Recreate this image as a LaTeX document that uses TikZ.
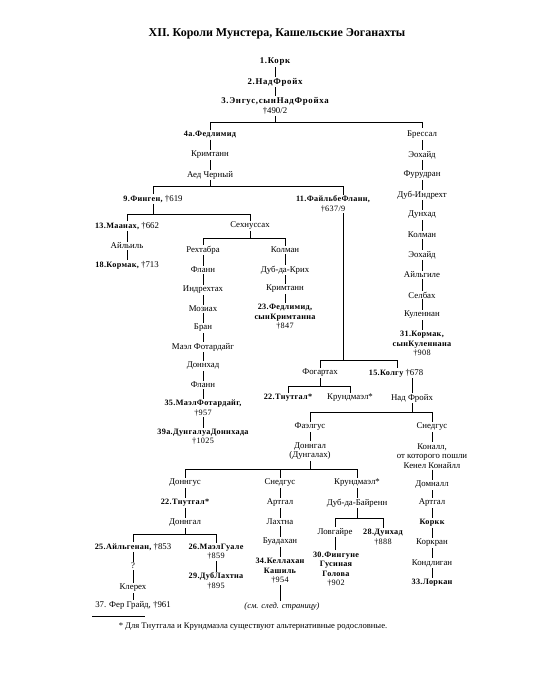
\documentclass[tikz,border=0pt]{standalone}
\usepackage{fontspec}
\setmainfont{Liberation Serif}
\newfontfamily\spc[LetterSpace=8]{Liberation Serif}
\newfontfamily\spd[LetterSpace=4]{Liberation Serif}
\begin{document}
\begin{tikzpicture}[x=1pt,y=-1pt,
  nm/.style={inner sep=1.1pt, align=center, font=\fontsize{8.8}{9.5}\selectfont},
  bd/.style={inner sep=1.1pt, align=center, font=\fontsize{8.2}{9.5}\spd\bfseries},
  sb/.style={inner sep=1.3pt, align=center, font=\fontsize{8.8}{10}\spc\bfseries},
  ln/.style={line width=0.5pt}]
\useasboundingbox (0,0) rectangle (550,700);
\node[font=\fontsize{12}{14}\selectfont\bfseries] (title) at (277,34) {XII. Короли Мунстера, Кашельские Эоганахты};
% top
\node[sb] (k1) at (275,62) {1.Корк};
\node[sb] (k2) at (275,82) {2.НадФройх};
\node[sb] (k3) at (275,106) {3.Энгус,сынНадФройха\\{\mdseries\rmfamily †490/2}};
\draw[ln] (k1) -- (k2);
\draw[ln] (k2) -- (k3);
\coordinate (b3) at (0,122);
\node[bd] (f4) at (210,135) {4а.Федлимид};
\node[nm] (kr1) at (210,155) {Кримтанн};
\node[nm] (aed) at (210,175) {Аед Черный};
\draw[ln] (k3.south) -- (k3.south |- b3);
\draw[ln] (f4.north) -- (f4.north |- b3) -| (422,128);
\draw[ln] (f4) -- (kr1);
\draw[ln] (kr1) -- (aed);
% right chain Брессал
\node[nm] (r1) at (422,135) {Брессал};
\node[nm] (r2) at (422,155) {Эохайд};
\node[nm] (r3) at (422,175) {Фурудран};
\node[nm] (r4) at (422,195) {Дуб-Индрехт};
\node[nm] (r5) at (422,215) {Дунхад};
\node[nm] (r6) at (422,235) {Колман};
\node[nm] (r7) at (422,255) {Эохайд};
\node[nm] (r8) at (422,275) {Айльгиле};
\node[nm] (r9) at (422,295) {Селбах};
\node[nm] (r10) at (422,315) {Куленнан};
\node[bd] (r11) at (422,344) {31.Кормак,\\сынКуленнана\\{\mdseries †908}};
\foreach \a/\b in {r1/r2,r2/r3,r3/r4,r4/r5,r5/r6,r6/r7,r7/r8,r8/r9,r9/r10,r10/r11}
  \draw[ln] (\a) -- (\b);
% level 9 / 11
\coordinate (b4) at (0,186);
\node[nm] (f9) at (153,199) {{\spd\bfseries\fontsize{8.2}{9.5}\selectfont 9.Финген,} †619};
\node[bd] (f11) at (333,204) {11.ФайльбеФланн,\\{\mdseries †637/9}};
\draw[ln] (aed.south) -- (aed.south |- b4);
\draw[ln] (f9.north) -- (f9.north |- b4) -- (343,186) -- (f11.north -| 343,0);
% under 9
\coordinate (b9) at (0,214);
\node[nm] (m13) at (127,226) {{\spd\bfseries\fontsize{8.2}{9.5}\selectfont 13.Маанах,} †662};
\node[nm] (ail) at (127,246) {Айльиль};
\node[nm] (k18) at (127,265) {{\spd\bfseries\fontsize{8.2}{9.5}\selectfont 18.Кормак,} †713};
\node[nm] (sech) at (250,226) {Сехнуссах};
\draw[ln] (f9.south) -- (f9.south |- b9);
\draw[ln] (m13.north) -- (m13.north |- b9) -| (sech.north);
\draw[ln] (m13) -- (ail);
\draw[ln] (ail) -- (k18);
% under Сехнуссах
\coordinate (bs) at (0,238);
\node[nm] (rech) at (203,250) {Рехтабра};
\node[nm] (kolm) at (285,250) {Колман};
\draw[ln] (sech.south) -- (sech.south |- bs);
\draw[ln] (rech.north) -- (rech.north |- bs) -| (kolm.north);
\node[nm] (l1) at (203,270) {Фланн};
\node[nm] (l2) at (203,290) {Индрехтах};
\node[nm] (l3) at (203,309) {Мозиах};
\node[nm] (l4) at (203,328) {Бран};
\node[nm] (l5) at (203,347) {Маэл Фотардайг};
\node[nm] (l6) at (203,366) {Доннхад};
\node[nm] (l7) at (203,385) {Фланн};
\node[bd] (l8) at (203,408) {35.МаэлФотардайг,\\{\mdseries †957}};
\node[bd] (l9) at (203,437) {39а.ДунгалуаДоннхада\\{\mdseries †1025}};
\foreach \a/\b in {rech/l1,l1/l2,l2/l3,l3/l4,l4/l5,l5/l6,l6/l7,l7/l8,l8/l9}
  \draw[ln] (\a) -- (\b);
\node[nm] (c1) at (285,270) {Дуб-да-Крих};
\node[nm] (c2) at (285,289) {Кримтанн};
\node[bd] (c3) at (285,317) {23.Федлимид,\\сынКримтанна\\{\mdseries †847}};
\foreach \a/\b in {kolm/c1,c1/c2,c2/c3}
  \draw[ln] (\a) -- (\b);
% under 11
\coordinate (b11) at (0,360);
\node[nm] (fog) at (320,373) {Фогартах};
\node[nm] (k15) at (396,373) {{\spd\bfseries\fontsize{8.2}{9.5}\selectfont 15.Колгу} †678};
\draw[ln] (f11.south -| 343,0) -- (343,360);
\draw[ln] (fog.north) -- (fog.north |- b11) -- (397,360) -- (k15.north -| 397,0);
\coordinate (bf) at (0,386);
\node[bd] (t22) at (288,398) {22.Тнутгал*};
\node[nm] (krd) at (350,398) {Крундмаэл*};
\node[nm] (nad) at (412,398) {Над Фройх};
\draw[ln] (fog.south) -- (fog.south |- bf);
\draw[ln] (t22.north) -- (t22.north |- bf) -| (krd.north);
\draw[ln] (k15.south -| nad.north) -- (nad.north);
\coordinate (bn) at (0,412);
\node[nm] (fael) at (310,427) {Фаэлгус};
\node[nm] (sn2) at (432,427) {Снедгус};
\draw[ln] (nad.south) -- (nad.south |- bn);
\draw[ln] (fael.north) -- (fael.north |- bn) -| (sn2.north);
\node[nm] (dng) at (310,451) {Доннгал\\(Дунгалах)};
\draw[ln] (fael) -- (dng);
% right Снедгус chain
\node[nm] (s1) at (432,456) {Коналл,\\от которого пошли\\Кенел Конайлл};
\node[nm] (s2) at (432,485) {Домналл};
\node[nm] (s3) at (432,503) {Артгал};
\node[bd] (s4) at (432,523) {Коркк};
\node[nm] (s5) at (432,543) {Коркран};
\node[nm] (s6) at (432,563) {Кондлиган};
\node[bd] (s7) at (432,583) {33.Лоркан};
\foreach \a/\b in {sn2/s1,s1/s2,s2/s3,s3/s4,s4/s5,s5/s6,s6/s7}
  \draw[ln] (\a) -- (\b);
% under Доннгал (Дунгалах)
\coordinate (bd1) at (0,469);
\node[nm] (dgus) at (185,483) {Доннгус};
\node[nm] (sned) at (280,483) {Снедгус};
\node[nm] (krm) at (357,483) {Крундмаэл*};
\draw[ln] (dng.south) -- (dng.south |- bd1);
\draw[ln] (dgus.north) -- (dgus.north |- bd1) -| (krm.north);
\draw[ln] (sned.north) -- (sned.north |- bd1);
% Доннгус chain
\node[bd] (t22b) at (185,503) {22.Тнутгал*};
\node[nm] (dgal) at (185,523) {Доннгал};
\draw[ln] (dgus) -- (t22b);
\draw[ln] (t22b) -- (dgal);
\coordinate (bg) at (0,534);
\node[nm] (a25) at (133,547) {{\spd\bfseries\fontsize{8.2}{9.5}\selectfont 25.Айльгенан,} †853};
\node[bd] (m26) at (216,552) {26.МаэлГуале\\{\mdseries †859}};
\node[bd] (d29) at (216,581) {29.ДубЛахтна\\{\mdseries †895}};
\draw[ln] (dgal.south) -- (dgal.south |- bg);
\draw[ln] (a25.north) -- (a25.north |- bg) -| (m26.north);
\draw[ln] (m26) -- (d29);
\node[nm] (q) at (133,566) {?};
\node[nm] (kle) at (133,588) {Клерех};
\node[nm] (f37) at (133,605) {37. Фер Грайд, †961};
\draw[ln] (a25) -- (q);
\draw[ln] (q) -- (kle);
\draw[ln] (kle) -- (f37);
% Снедгус chain
\node[nm] (e1) at (280,503) {Артгал};
\node[nm] (e2) at (280,522) {Лахтна};
\node[nm] (e3) at (280,542) {Буадахан};
\node[bd] (e4) at (280,571) {34.Келлахан\\Кашиль\\{\mdseries †954}};
\node[nm, font=\fontsize{8.5}{9}\selectfont\itshape] (e5) at (282,606) {(см. след. страницу)};
\foreach \a/\b in {sned/e1,e1/e2,e2/e3,e3/e4}
  \draw[ln] (\a) -- (\b);
\draw[ln] (e4.south) -- (e4.south |- e5.north);
% Крундмаэл chain
\node[nm] (g1) at (357,503) {Дуб-да-Байренн};
\draw[ln] (krm) -- (g1);
\coordinate (bk) at (0,518);
\node[nm] (lov) at (335,532) {Ловгайре};
\node[bd] (d28) at (383,537) {28.Дунхад\\{\mdseries †888}};
\draw[ln] (g1.south) -- (g1.south |- bk);
\draw[ln] (lov.north) -- (lov.north |- bk) -| (d28.north);
\node[bd] (f30) at (336,569) {30.Фингуне\\Гусиная\\Голова\\{\mdseries †902}};
\draw[ln] (lov.south) -- (lov.south |- f30.north);
% footnote
\draw[line width=0.4pt] (92,616) -- (145,616);
\node[inner sep=0pt, font=\fontsize{8.6}{9}\selectfont] (fn) at (253,627) {* Для Тнутгала и Крундмаэла существуют альтернативные родословные.};
\end{tikzpicture}
\end{document}
